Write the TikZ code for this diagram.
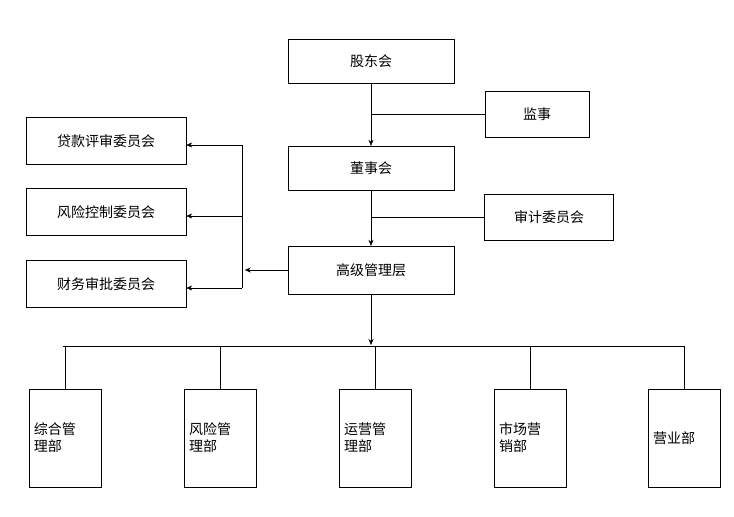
\documentclass[tikz,border=0pt]{standalone}
\usepackage{fontspec}
\setmainfont{Noto Sans CJK SC}
\usetikzlibrary{arrows.meta,positioning,calc}

\tikzset{
    box/.style={rectangle, draw, minimum width=166pt, minimum height=44pt, inner sep=2pt, font=\fontsize{14}{16}\selectfont},
    side/.style={box, minimum width=104pt, minimum height=46pt},
    cmt/.style={box, minimum width=160pt, minimum height=47pt},
    dept/.style={rectangle, draw, minimum width=72pt, minimum height=98pt, text width=62pt, align=left, inner sep=3pt, font=\fontsize{14}{17}\selectfont},
    arr/.style={-{Stealth[length=6pt,width=5pt]}}
}

\begin{document}
\begin{tikzpicture}[x=1pt,y=-1pt]
    \useasboundingbox (0,0) rectangle (734,517);

    % Main chain
    \node[box] (gd) at (371,61) {股东会};
    \node[box] (ds) at (371,168) {董事会};
    \node[box, minimum height=48pt] (gj) at (371,270) {高级管理层};
    \node[side] (js) at (537,114) {监事};
    \node[side, minimum width=129pt] (sj) at (549,217) {审计委员会};

    \draw[arr] (gd) -- (ds);
    \draw[arr] (ds) -- (gj);
    \draw (js.west) -- (js.west -| gd.south);
    \draw (sj.west) -- (sj.west -| gd.south);

    % Committees
    \node[cmt] (dk) at (106,141) {贷款评审委员会};
    \node[cmt] (fx) at (106,212) {风险控制委员会};
    \node[cmt] (cw) at (106,284) {财务审批委员会};

    \coordinate (bus) at (242,0);
    \draw[arr] (gj.west) -- ($(gj.west)+(-43,0)$);
    \draw (bus |- 0,145) -- (bus |- 0,288);
    \foreach \c/\y in {dk/145, fx/216, cw/288} {
        \draw[arr] (bus |- 0,\y) -- (\c.east |- 0,\y);
    }

    % Departments
    \coordinate (mid) at (371,346);
    \draw[arr] (gj.south) -- ($(mid)+(0,-1)$);
    \draw (63,346) -- (685,346);
    \foreach \n/\x/\t in {d1/65/综合管\\理部, d2/220/风险管\\理部, d3/375/运营管\\理部, d4/530/市场营\\销部, d5/684/营业部} {
        \node[dept] (\n) at (\x,438) {\t};
        \draw (\n.north |- mid) -- (\n.north);
    }
\end{tikzpicture}
\end{document}
